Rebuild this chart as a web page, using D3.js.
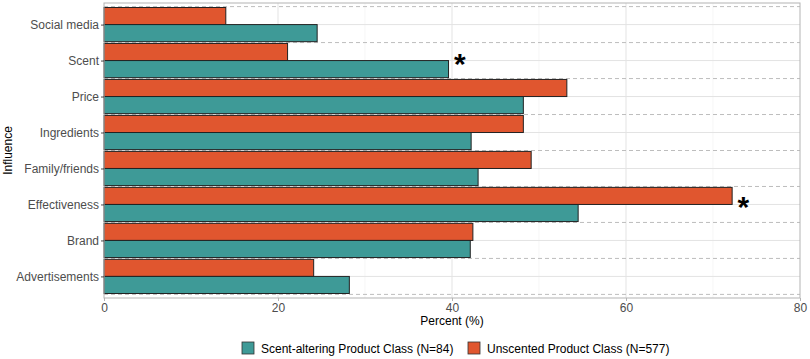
<!DOCTYPE html>
<html>
<head>
<meta charset="utf-8">
<script src="https://cdn.jsdelivr.net/npm/d3@7"></script>
<style>
  body { margin: 0; background: #fff; }
  svg { font-family: "Liberation Sans", Arial, sans-serif; }
</style>
</head>
<body>
<svg id="chart" width="810" height="359"></svg>
<script>
// data
const influences = ["Social media", "Scent", "Price", "Ingredients", "Family/friends", "Effectiveness", "Brand", "Advertisements"];
const scentAltering = [24.5, 39.6, 48.2, 42.2, 43.0, 54.5, 42.1, 28.2];
const unscented = [14.0, 21.1, 53.2, 48.2, 49.1, 72.2, 42.4, 24.1];
const significant = ["Scent", "Effectiveness"];
const seriesNames = ["Scent-altering Product Class (N=84)", "Unscented Product Class (N=577)"];
const xTicks = [0, 20, 40, 60, 80];

const teal = "#3e9a97", orange = "#e0562f";

// panel edges (note: `top` is taken by window.top, so use other names)
const panelL = 104, panelR = 800, panelT = 3, panelB = 298;
const svg = d3.select("#chart");

const x = d3.scaleLinear().domain([0, 80]).range([panelL, panelR]);
const y = d3.scalePoint().domain(influences).range([panelT, panelB]).padding(0.6);
const step = y.step();
const barH = step * 0.475;

// grid
const grid = svg.append("g");
grid.selectAll("line.minor")
  .data([10, 30, 50, 70])
  .join("line")
    .attr("x1", d => x(d)).attr("x2", d => x(d))
    .attr("y1", panelT).attr("y2", panelB)
    .attr("stroke", "#f0f0f0").attr("stroke-width", 0.6);
grid.selectAll("line.major")
  .data([20, 40, 60])
  .join("line")
    .attr("x1", d => x(d)).attr("x2", d => x(d))
    .attr("y1", panelT).attr("y2", panelB)
    .attr("stroke", "#e3e3e3").attr("stroke-width", 1);
grid.selectAll("line.ymajor")
  .data(influences)
  .join("line")
    .attr("x1", panelL).attr("x2", panelR)
    .attr("y1", d => y(d)).attr("y2", d => y(d))
    .attr("stroke", "#e3e3e3").attr("stroke-width", 1);

// dashed separators between categories
const seps = d3.range(influences.length + 1).map(i => y(influences[0]) - step / 2 + i * step);
grid.selectAll("line.sep")
  .data(seps)
  .join("line")
    .attr("x1", panelL).attr("x2", panelR)
    .attr("y1", d => d).attr("y2", d => d)
    .attr("stroke", "#bdbdbd").attr("stroke-width", 1)
    .attr("stroke-dasharray", "4,3");

// bars
const bars = svg.append("g").attr("stroke", "#222").attr("stroke-width", 1);
bars.selectAll("rect.un")
  .data(influences)
  .join("rect")
    .attr("class", "un")
    .attr("x", x(0))
    .attr("y", d => y(d) - barH)
    .attr("width", (d, i) => x(unscented[i]) - x(0))
    .attr("height", barH)
    .attr("fill", orange);
bars.selectAll("rect.sa")
  .data(influences)
  .join("rect")
    .attr("class", "sa")
    .attr("x", x(0))
    .attr("y", d => y(d))
    .attr("width", (d, i) => x(scentAltering[i]) - x(0))
    .attr("height", barH)
    .attr("fill", teal);

// significance stars
svg.append("g").selectAll("text")
  .data(significant)
  .join("text")
    .attr("x", d => {
      const i = influences.indexOf(d);
      return x(Math.max(scentAltering[i], unscented[i]) + 1.3);
    })
    .attr("y", d => y(d) + 13)
    .attr("text-anchor", "middle")
    .attr("font-size", 30)
    .attr("font-weight", "bold")
    .attr("fill", "#000")
    .text("*");

// panel border
svg.append("rect")
  .attr("x", panelL).attr("y", panelT)
  .attr("width", panelR - panelL).attr("height", panelB - panelT)
  .attr("fill", "none").attr("stroke", "#b3b3b3").attr("stroke-width", 1);

// axes
const xAxis = svg.append("g")
  .attr("transform", `translate(0,${panelB})`)
  .call(d3.axisBottom(x).tickValues(xTicks).tickSize(3).tickPadding(2));
xAxis.select(".domain").remove();
xAxis.selectAll("line").attr("stroke", "#b3b3b3");
xAxis.selectAll("text").attr("font-size", 12).attr("fill", "#4d4d4d");
xAxis.attr("font-family", null);

const yAxis = svg.append("g")
  .attr("transform", `translate(${panelL},0)`)
  .call(d3.axisLeft(y).tickSize(3).tickPadding(2));
yAxis.select(".domain").remove();
yAxis.selectAll("line").attr("stroke", "#4d4d4d");
yAxis.selectAll("text").attr("font-size", 12).attr("fill", "#4d4d4d");
yAxis.attr("font-family", null);

svg.append("text")
  .attr("x", (panelL + panelR) / 2).attr("y", 325)
  .attr("text-anchor", "middle").attr("font-size", 12).attr("fill", "#000")
  .text("Percent (%)");

svg.append("text")
  .attr("transform", `translate(12,${(panelT + panelB) / 2}) rotate(-90)`)
  .attr("text-anchor", "middle").attr("font-size", 12).attr("fill", "#000")
  .text("Influence");

// legend
const legend = svg.append("g").attr("transform", "translate(242,342)");
const keyX = [0, 226];
const colors = [teal, orange];
const item = legend.selectAll("g")
  .data(seriesNames)
  .join("g")
    .attr("transform", (d, i) => `translate(${keyX[i]},0)`);
item.append("rect")
  .attr("width", 12).attr("height", 12)
  .attr("fill", (d, i) => colors[i])
  .attr("stroke", "#333").attr("stroke-width", 0.8);
item.append("text")
  .attr("x", 19).attr("y", 10.5)
  .attr("font-size", 12).attr("fill", "#000")
  .text(d => d);
</script>
</body>
</html>
